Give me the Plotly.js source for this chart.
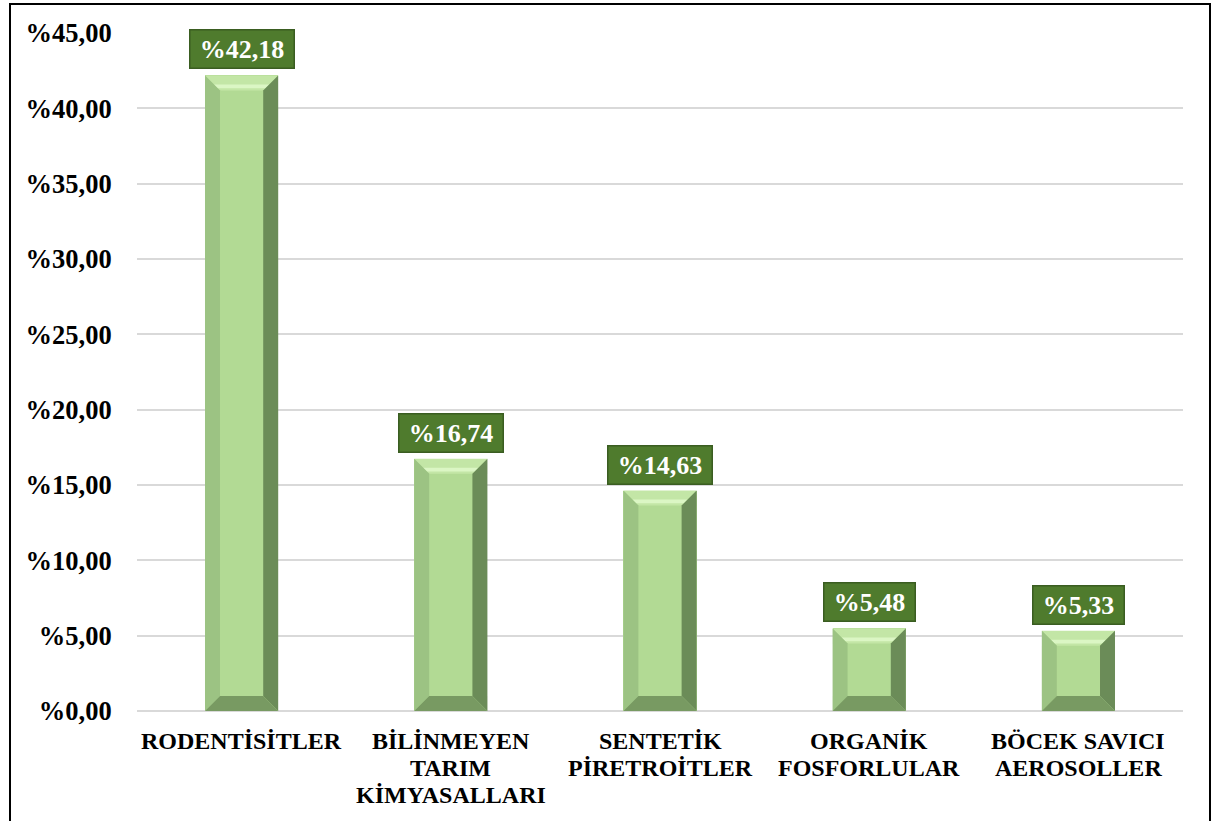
<!DOCTYPE html>
<html>
<head>
<meta charset="utf-8">
<script src="https://cdn.plot.ly/plotly-3.0.1.min.js"></script>
<style>
  html, body { margin: 0; padding: 0; background: #fff; overflow: hidden; }
  #wrap { position: relative; width: 1215px; height: 821px; }
  #chart { position: absolute; left: 0; top: 0; width: 1215px; height: 821px; }
  #frame { position: absolute; left: 9px; top: 3px; width: 1198px; height: 840px;
           border: 2px solid #000; pointer-events: none; }
</style>
</head>
<body>
<div id="wrap">
  <div id="chart"></div>
  <div id="frame"></div>
</div>
<script>
// ---- data ----
const categories = [
  'RODENTİSİTLER',
  'BİLİNMEYEN<br>TARIM<br>KİMYASALLARI',
  'SENTETİK<br>PİRETROİTLER',
  'ORGANİK<br>FOSFORLULAR',
  'BÖCEK SAVICI<br>AEROSOLLER'
];
const values = [42.18, 16.74, 14.63, 5.48, 5.33];
const valueLabels = ['%42,18', '%16,74', '%14,63', '%5,48', '%5,33'];
const yTickVals = [0, 5, 10, 15, 20, 25, 30, 35, 40, 45];
const yTickText = ['%0,00', '%5,00', '%10,00', '%15,00', '%20,00', '%25,00', '%30,00', '%35,00', '%40,00', '%45,00'];

// ---- layout constants ----
const W = 1215, H = 821;
const M = { l: 137, r: 32, t: 33, b: 110 };
const yMax = 45;
const barWidth = 0.35;
const plotW = W - M.l - M.r, plotH = H - M.t - M.b;
const xPx = plotW / categories.length;   // px per x unit
const yPx = plotH / yMax;                // px per y unit
const bevelPxX = 15, bevelPxY = 15;
const dx = bevelPxX / xPx, dy = bevelPxY / yPx;
const lineGap = 27;      // px between category label lines
const firstLineShift = 30;

const xIdx = categories.map((_, i) => i);
const FONT = '"Liberation Serif", "Times New Roman", serif';

const trace = {
  type: 'bar',
  x: xIdx,
  y: values,
  width: barWidth,
  marker: { color: '#b2da94', line: { width: 0 } },
  hoverinfo: 'skip'
};

const shapes = [];
values.forEach((v, i) => {
  const x0 = i - barWidth / 2, x1 = i + barWidth / 2;
  const d = Math.min(dy, v / 2);
  const poly = (pts, col) => shapes.push({
    type: 'path', xref: 'x', yref: 'y', layer: 'above',
    path: 'M' + pts.map(p => p[0] + ',' + p[1]).join(' L') + ' Z',
    fillcolor: col, line: { width: 0 }
  });
  // top
  poly([[x0, v], [x1, v], [x1 - dx, v - d], [x0 + dx, v - d]], '#c3e6a6');
  // highlight band near inner edge of top bevel
  poly([[x0 + dx * 0.6, v - d * 0.6], [x1 - dx * 0.6, v - d * 0.6], [x1 - dx * 0.85, v - d * 0.85], [x0 + dx * 0.85, v - d * 0.85]], '#dbf6c4');
  // left
  poly([[x0, v], [x0 + dx, v - d], [x0 + dx, d], [x0, 0]], '#9cc383');
  // right
  poly([[x1, v], [x1 - dx, v - d], [x1 - dx, d], [x1, 0]], '#6b8c58');
  // bottom
  poly([[x0, 0], [x1, 0], [x1 - dx, d], [x0 + dx, d]], '#789a62');
});

const annotations = values.map((v, i) => ({
  x: i, y: v, xref: 'x', yref: 'y',
  text: '<b>\u2009' + valueLabels[i] + '\u2009</b>',
  showarrow: false,
  yanchor: 'bottom',
  yshift: 6,
  font: { family: FONT, size: 26, color: '#ffffff' },
  bgcolor: '#4f7b2d',
  bordercolor: '#3a5d21',
  borderwidth: 1.5,
  borderpad: 4
}));

// category labels, one annotation per line (tighter line spacing as in the reference)
categories.forEach((c, i) => {
  c.split('<br>').forEach((line, k) => {
    annotations.push({
      x: i, y: 0, xref: 'x', yref: 'y',
      text: '<b>' + line + '</b>',
      showarrow: false,
      xanchor: 'center', yanchor: 'middle',
      yshift: -(firstLineShift + k * lineGap),
      font: { family: FONT, size: 24, color: '#000' }
    });
  });
});

const layout = {
  width: W, height: H,
  margin: M,
  paper_bgcolor: '#ffffff',
  plot_bgcolor: '#ffffff',
  showlegend: false,
  bargap: 0,
  xaxis: {
    range: [-0.5, categories.length - 0.5],
    tickvals: xIdx,
    showticklabels: false,
    showgrid: false, zeroline: false, showline: false,
    ticks: '',
    fixedrange: true
  },
  yaxis: {
    range: [0, yMax],
    tickvals: yTickVals,
    ticktext: yTickText.map(t => '<b>' + t + '</b>'),
    tickfont: { family: FONT, size: 26.5, color: '#000' },
    showgrid: true, gridcolor: '#d9d9d9', gridwidth: 2,
    zeroline: true, zerolinecolor: '#d9d9d9', zerolinewidth: 2,
    showline: false,
    ticks: 'outside', ticklen: 19, tickcolor: 'rgba(0,0,0,0)',
    fixedrange: true
  },
  shapes: shapes,
  annotations: annotations
};

Plotly.newPlot('chart', [trace], layout, { staticPlot: true, displayModeBar: false });
</script>
</body>
</html>
